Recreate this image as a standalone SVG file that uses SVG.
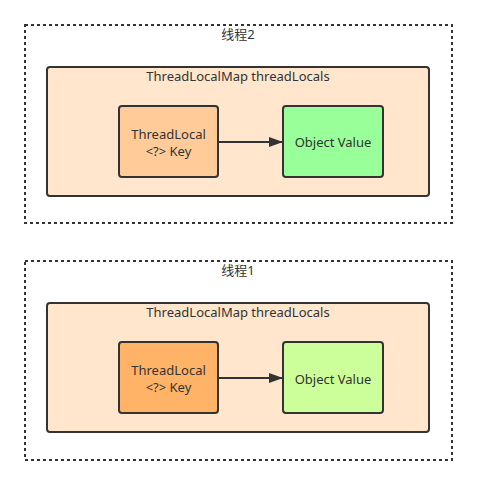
<svg xmlns="http://www.w3.org/2000/svg" width="477" height="485" viewBox="0 0 477 485">
<defs>
<style>
.outer{fill:none;stroke:#333;stroke-width:2;stroke-dasharray:3 3}
.map{fill:#FFE6CC;stroke:#333;stroke-width:2}
.node{stroke:#333;stroke-width:2}
text{font-family:"Noto Sans","Noto Sans CJK SC",sans-serif;font-size:13px;fill:#333;text-anchor:middle}
.edge{stroke:#333;stroke-width:2;fill:none}
</style>
<marker id="arr" viewBox="0 0 14 10" refX="13" refY="5" markerWidth="14" markerHeight="10" markerUnits="userSpaceOnUse" orient="auto">
<path d="M0,0 L14,5 L0,10 Z" fill="#333"/>
</marker>
</defs>
<g id="thread2">
<rect class="outer" x="25" y="25" width="427" height="198"/>
<text x="238" y="39">线程2</text>
</g>
<g id="map2">
<rect class="map" x="47" y="67" width="382" height="129" rx="3"/>
<text x="238" y="81">ThreadLocalMap threadLocals</text>
</g>
<g id="key2">
<rect class="node" x="119" y="106" width="99" height="71" rx="3" fill="#FFCC99"/>
<text x="168.5" y="139">ThreadLocal</text>
<text x="168.5" y="156">&lt;?&gt; Key</text>
</g>
<g id="value2">
<rect class="node" x="283" y="106" width="100" height="71" rx="3" fill="#99FF99"/>
<text x="333" y="147">Object Value</text>
</g>
<g id="thread1">
<rect class="outer" x="25" y="261" width="427" height="199"/>
<text x="238" y="275">线程1</text>
</g>
<g id="map1">
<rect class="map" x="47" y="303" width="382" height="129" rx="3"/>
<text x="238" y="317">ThreadLocalMap threadLocals</text>
</g>
<g id="key1">
<rect class="node" x="119" y="342" width="99" height="71" rx="3" fill="#FFB366"/>
<text x="168.5" y="375">ThreadLocal</text>
<text x="168.5" y="392">&lt;?&gt; Key</text>
</g>
<g id="value1">
<rect class="node" x="283" y="342" width="100" height="71" rx="3" fill="#CCFF99"/>
<text x="333" y="384">Object Value</text>
</g>
<g id="connectors">
<line class="edge" x1="218" y1="142" x2="282" y2="142" marker-end="url(#arr)"/>
<line class="edge" x1="218" y1="378" x2="282" y2="378" marker-end="url(#arr)"/>
</g>
</svg>
